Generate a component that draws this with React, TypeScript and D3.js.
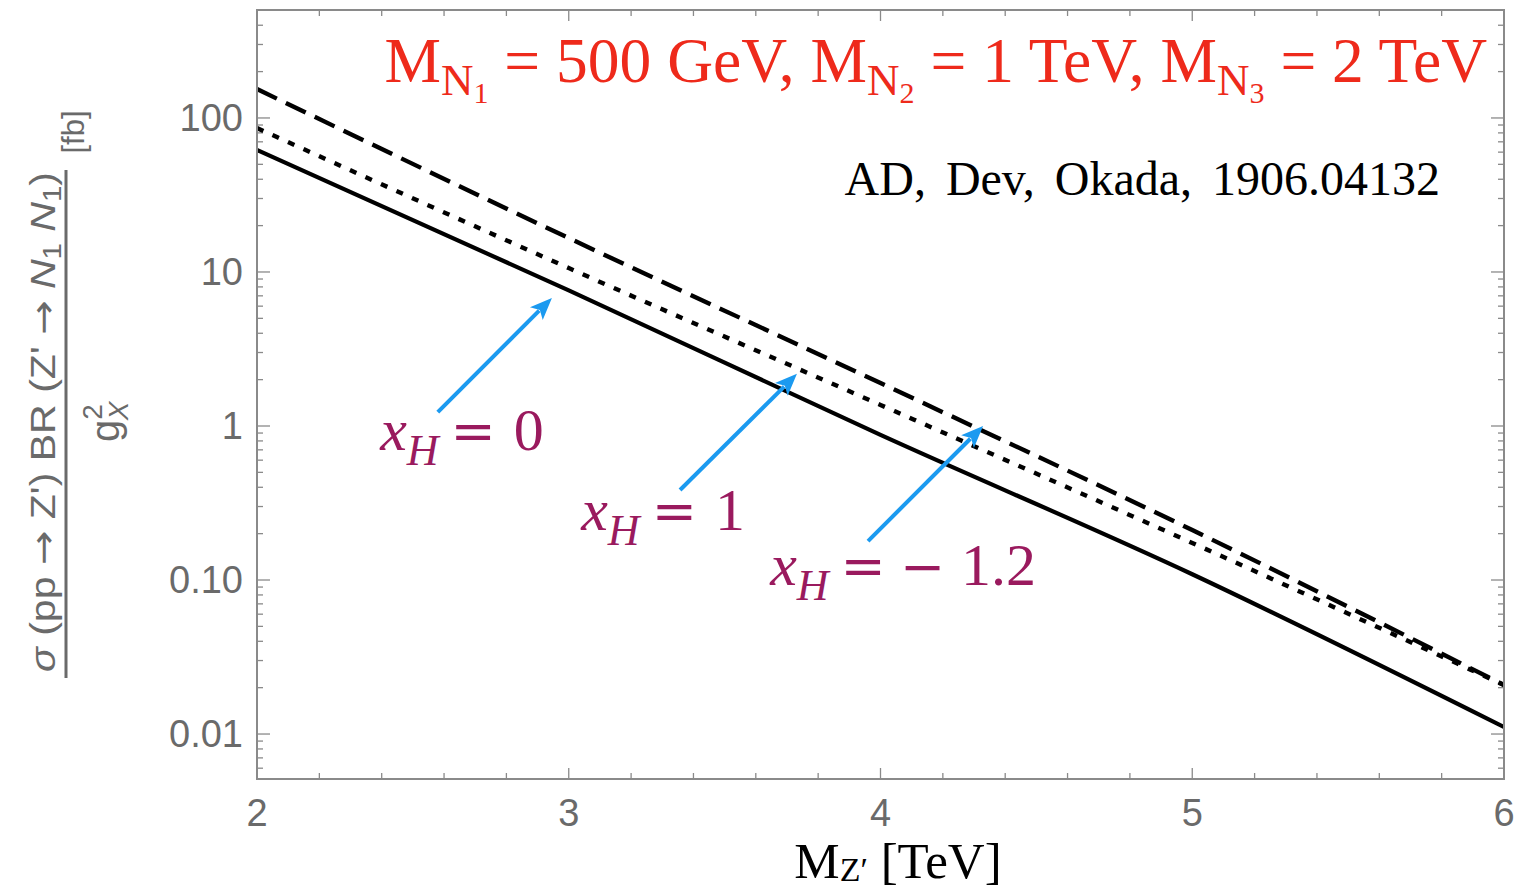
import React from "react";
import * as d3 from "d3";

const W = 1517;
const H = 891;

// M_Z' in TeV
const massTeV = [2, 3, 4, 5, 6];
// sigma*BR/g_X^2 in fb
const xH0 = [62, 7.6, 0.875, 0.109, 0.0111]; // solid
const xH1 = [86, 10.6, 1.37, 0.174, 0.0208]; // dotted
const xHm12 = [154, 16.6, 1.9, 0.211, 0.0208]; // dashed

const xTicks = [2, 3, 4, 5, 6];
const yTicks = [100, 10, 1, 0.1, 0.01];
const yTickLabels = ["100", "10", "1", "0.10", "0.01"];

// annotations: label value, label anchor (data), arrow from/to (data)
const annotLabels = ["0", "1", "1.2"];
const annotNeg = [false, false, true];
const annotLabelX = [2.395, 3.04, 3.646];
const annotLabelY = [0.698, 0.211, 0.0929];
const arrowFromX = [2.58, 3.357, 3.96];
const arrowFromY = [1.23, 0.384, 0.179];
const arrowToX = [2.946, 3.732, 4.329];
const arrowToY = [6.78, 2.18, 1.0];

const M = { left: 257, right: 1504, top: 10, bottom: 779 };

export default function App() {
  const x = d3.scaleLinear().domain([2, 6]).range([M.left, M.right]);
  const y = d3
    .scaleLog()
    .domain([Math.pow(10, -2.292), Math.pow(10, 2.701)])
    .range([M.bottom, M.top]);

  const line = d3
    .line<[number, number]>()
    .x((d) => x(d[0]))
    .y((d) => y(d[1]))
    .curve(d3.curveMonotoneX);

  const series = [
    { data: xH0, dash: null, width: 4.2 },
    { data: xH1, dash: "7,10", width: 4.4 },
    { data: xHm12, dash: "22,10", width: 4.4 },
  ];

  const grey = "#8a8a8a";
  const tickColor = "#6a6a6a";
  const serif = "'Liberation Serif', 'Times New Roman', serif";
  const wideEq = "'DejaVu Serif', serif";

  const xMinor: number[] = [];
  for (let v = 2; v <= 6.0001; v += 0.2) xMinor.push(+v.toFixed(2));
  const yMinor: number[] = [];
  for (let e = -3; e <= 2; e++) {
    for (let k = 1; k <= 9; k++) {
      const v = k * Math.pow(10, e);
      const [lo, hi] = y.domain();
      if (v >= lo && v <= hi) yMinor.push(v);
    }
  }

  const arrowColor = "#1b9af0";
  const purple = "#9a1a5e";

  return (
    <svg
      width={W}
      height={H}
      style={{ position: "absolute", left: 0, top: 0, background: "#fff" }}
    >
      <defs>
        <clipPath id="plotclip">
          <rect x={M.left} y={M.top} width={M.right - M.left} height={M.bottom - M.top} />
        </clipPath>
      </defs>
      <rect x={0} y={0} width={W} height={H} fill="#fff" />

      {/* ticks */}
      <g stroke={grey} strokeWidth={1.3}>
        {xMinor.map((v, i) => {
          const major = Math.abs(v - Math.round(v)) < 1e-6;
          const len = major ? 11 : 6;
          return (
            <g key={"xm" + i}>
              <line x1={x(v)} x2={x(v)} y1={M.bottom} y2={M.bottom - len} />
              <line x1={x(v)} x2={x(v)} y1={M.top} y2={M.top + len} />
            </g>
          );
        })}
        {yMinor.map((v, i) => {
          const major = Math.abs(Math.log10(v) - Math.round(Math.log10(v))) < 1e-6;
          const len = major ? 13 : 6;
          return (
            <g key={"ym" + i}>
              <line x1={M.left} x2={M.left + len} y1={y(v)} y2={y(v)} />
              <line x1={M.right} x2={M.right - len} y1={y(v)} y2={y(v)} />
            </g>
          );
        })}
      </g>

      {/* curves */}
      <g clipPath="url(#plotclip)">
        {series.map((s, i) => (
          <path
            key={i}
            d={line(massTeV.map((m, j) => [m, s.data[j]] as [number, number])) || ""}
            fill="none"
            stroke="#000"
            strokeWidth={s.width}
            strokeDasharray={s.dash || undefined}
          />
        ))}
      </g>

      {/* frame */}
      <rect
        x={M.left}
        y={M.top}
        width={M.right - M.left}
        height={M.bottom - M.top}
        fill="none"
        stroke={grey}
        strokeWidth={2}
      />

      {/* tick labels */}
      <g fontFamily="'Liberation Sans', Arial, sans-serif" fontSize={38} fill={tickColor}>
        {xTicks.map((v) => (
          <text key={"xt" + v} x={x(v)} y={826} textAnchor="middle">
            {v}
          </text>
        ))}
        {yTicks.map((v, i) => (
          <text key={"yt" + v} x={243} y={y(v) + 13} textAnchor="end">
            {yTickLabels[i]}
          </text>
        ))}
      </g>

      {/* x axis label */}
      <text x={898} y={878} textAnchor="middle" fontFamily={serif} fontSize={51} fill="#000">
        M
        <tspan fontSize={34} dy={3}>
          Z{"\u2032"}
        </tspan>
        <tspan dy={-3}> [TeV]</tspan>
      </text>

      {/* y axis label (rotated fraction) */}
      <g
        transform="translate(0,422) rotate(-90)"
        fontFamily="'Liberation Sans', Arial, sans-serif"
        fill={tickColor}
      >
        <text x={0} y={55} textAnchor="middle" fontSize={35} textLength={500} lengthAdjust="spacingAndGlyphs">
          <tspan fontStyle="italic">σ</tspan>
          <tspan>{" (pp "}</tspan>
          <tspan fontFamily="'DejaVu Sans', sans-serif">{"\u2192"}</tspan>
          <tspan>{" Z') BR (Z' "}</tspan>
          <tspan fontFamily="'DejaVu Sans', sans-serif">{"\u2192"}</tspan>
          <tspan> </tspan>
          <tspan fontStyle="italic">N</tspan>
          <tspan fontSize={25} dy={6}>1</tspan>
          <tspan dy={-6}> </tspan>
          <tspan fontStyle="italic">N</tspan>
          <tspan fontSize={25} dy={6}>1</tspan>
          <tspan dy={-6}>)</tspan>
        </text>
        <line x1={-256} x2={252} y1={66} y2={66} stroke={tickColor} strokeWidth={3} />
        <text x={-20} y={119} textAnchor="start" fontSize={40}>
          g
          <tspan fontSize={28} dy={-17}>2</tspan>
          <tspan fontSize={28} fontStyle="italic" dy={26} dx={-16}>X</tspan>
        </text>
        <text x={290} y={84} textAnchor="middle" fontSize={31}>
          [fb]
        </text>
      </g>

      {/* title */}
      <text x={1487} y={82} textAnchor="end" fontFamily={serif} fontSize={63.5} fill="#ee2a1b">
        M
        <tspan fontSize={45} dy={13}>N</tspan>
        <tspan fontSize={30} dy={8}>1</tspan>
        <tspan dy={-21}> = 500 GeV, M</tspan>
        <tspan fontSize={45} dy={13}>N</tspan>
        <tspan fontSize={30} dy={8}>2</tspan>
        <tspan dy={-21}> = 1 TeV, M</tspan>
        <tspan fontSize={45} dy={13}>N</tspan>
        <tspan fontSize={30} dy={8}>3</tspan>
        <tspan dy={-21}> = 2 TeV</tspan>
      </text>

      <text
        x={1440}
        y={195}
        textAnchor="end"
        fontFamily={serif}
        fontSize={48}
        wordSpacing={8}
        fill="#000"
      >
        AD, Dev, Okada, 1906.04132
      </text>

      {/* arrows */}
      {arrowFromX.map((_, i) => {
        const x1 = x(arrowFromX[i]);
        const y1 = y(arrowFromY[i]);
        const x2 = x(arrowToX[i]);
        const y2 = y(arrowToY[i]);
        const ang = Math.atan2(y2 - y1, x2 - x1);
        const hl = 22;
        const hw = 9;
        const bx = x2 - hl * Math.cos(ang);
        const by = y2 - hl * Math.sin(ang);
        const px = -Math.sin(ang);
        const py = Math.cos(ang);
        const pts = [
          [x2, y2],
          [bx + hw * px, by + hw * py],
          [bx + 5 * Math.cos(ang), by + 5 * Math.sin(ang)],
          [bx - hw * px, by - hw * py],
        ]
          .map((p) => p.join(","))
          .join(" ");
        return (
          <g key={"ar" + i}>
            <line
              x1={x1}
              y1={y1}
              x2={bx + 4 * Math.cos(ang)}
              y2={by + 4 * Math.sin(ang)}
              stroke={arrowColor}
              strokeWidth={4}
            />
            <polygon points={pts} fill={arrowColor} />
          </g>
        );
      })}

      {/* annotation labels */}
      {annotLabels.map((t, i) => (
        <text
          key={"al" + i}
          x={x(annotLabelX[i])}
          y={y(annotLabelY[i])}
          fontFamily={serif}
          fontSize={60}
          fill={purple}
        >
          <tspan fontStyle="italic">x</tspan>
          <tspan fontStyle="italic" fontSize={44} dy={15}>H</tspan>
          <tspan dy={-15} dx={12} fontFamily={wideEq} fontSize={54}>=</tspan>
          {annotNeg[i] ? (
            <tspan dx={14} fontFamily={wideEq} fontSize={54}>{"\u2212"}</tspan>
          ) : null}
          <tspan dx={annotNeg[i] ? 16 : 18}>{t}</tspan>
        </text>
      ))}
    </svg>
  );
}
